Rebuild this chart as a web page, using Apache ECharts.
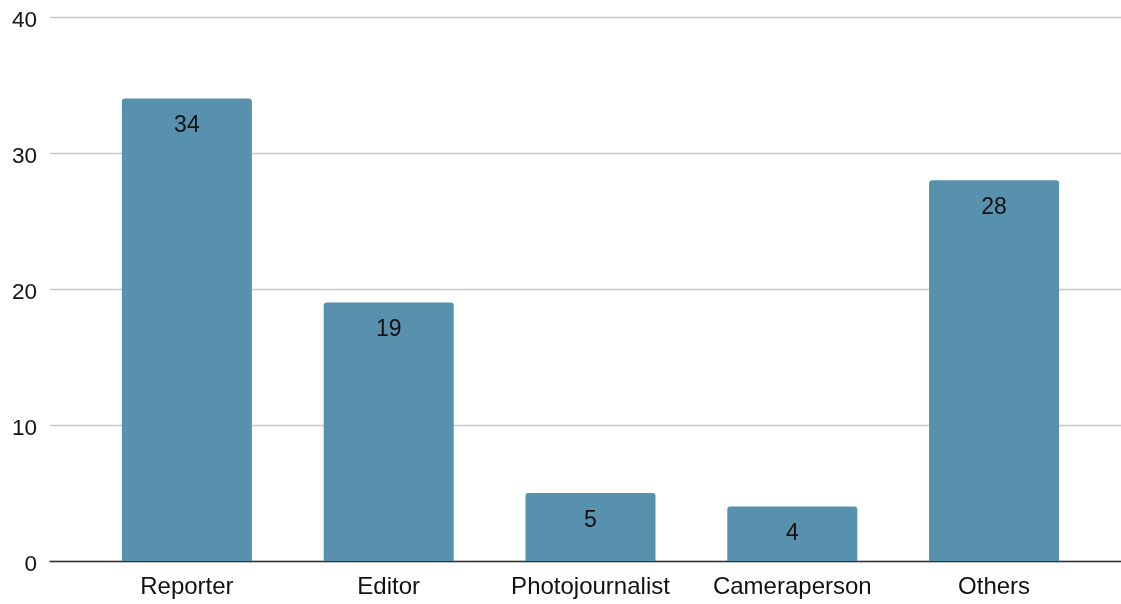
<!DOCTYPE html>
<html><head><meta charset="utf-8">
<script src="https://cdn.jsdelivr.net/npm/echarts@6/dist/echarts.min.js"></script>
<style>html,body{margin:0;padding:0;background:#fff}#c{width:1121px;height:604px}</style>
</head><body><div id="c"></div>
<script>
const categories = ['Reporter', 'Editor', 'Photojournalist', 'Cameraperson', 'Others'];
const counts = [34, 19, 5, 4, 28];
const yTicks = [0, 10, 20, 30, 40];

const chart = echarts.init(document.getElementById('c'), null, {renderer: 'canvas'});
const font = '"Liberation Sans", Arial, sans-serif';
chart.setOption({
  animation: false,
  grid: [
    {left: 50, right: 0, top: 17, bottom: 43},
    {left: 86, right: 26, top: 17, bottom: 43}
  ],
  xAxis: [
    {type: 'value', gridIndex: 0, min: 0, max: 1, show: true,
     axisLine: {show: true, lineStyle: {color: '#333', width: 1.3}},
     axisTick: {show: false}, axisLabel: {show: false}, splitLine: {show: false}},
    {type: 'category', gridIndex: 1, data: categories,
     axisLine: {show: false}, axisTick: {show: false},
     axisLabel: {color: '#111', fontSize: 24, fontFamily: font, margin: 14, interval: 0}}
  ],
  yAxis: [
    {type: 'value', gridIndex: 0, min: yTicks[0], max: yTicks[yTicks.length-1], interval: 10,
     axisLine: {show: false}, axisTick: {show: false},
     axisLabel: {margin: 13, formatter: v => '{v|' + v + '}',
       rich: {v: {color: '#111', fontSize: 22.5, fontFamily: font, padding: [8, 0, 0, 0]}}},
     splitLine: {lineStyle: {color: '#c8c8c8', width: 1.3}}},
    {type: 'value', gridIndex: 1, min: 0, max: 40, interval: 10, show: false}
  ],
  series: [{
    type: 'bar', xAxisIndex: 1, yAxisIndex: 1, data: counts, barWidth: 130,
    itemStyle: {color: '#5891ae', borderRadius: [3, 3, 0, 0]},
    label: {show: true, position: 'insideTop', distance: 16, color: '#111', fontSize: 23, fontFamily: font}
  }]
});
</script></body></html>
